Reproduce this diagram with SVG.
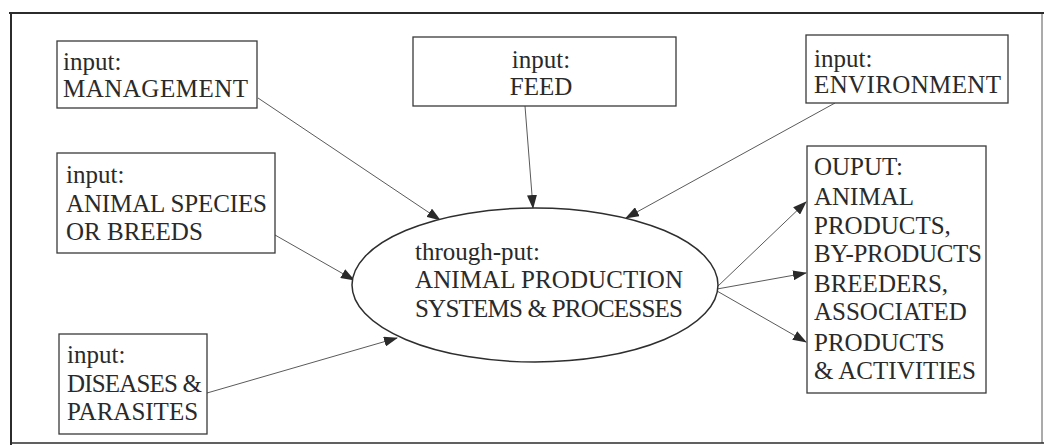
<svg xmlns="http://www.w3.org/2000/svg" width="1044" height="445" viewBox="0 0 1044 445">
  <defs>
    <marker id="arrow" markerWidth="14" markerHeight="10" refX="13" refY="5" orient="auto" markerUnits="userSpaceOnUse">
      <path d="M0,0 L14,5 L0,10 Z" fill="#2a2a2a"/>
    </marker>
    <style>
      .frame { stroke: #2b2b2b; fill: none; }
      .box { fill: #ffffff; stroke: #3a3a3a; stroke-width: 1.3; }
      .oval { fill: #ffffff; stroke: #2e2e2e; stroke-width: 1.5; }
      .label { font-family: "Liberation Serif", "Times New Roman", serif; font-size: 25px; fill: #2a2a2a; }
      .mid { text-anchor: middle; }
      .link { stroke: #5a5a5a; stroke-width: 1; fill: none; marker-end: url(#arrow); }
    </style>
  </defs>

  <rect width="1044" height="445" fill="#ffffff"/>

  <!-- page frame -->
  <g id="frame">
    <line class="frame" x1="9" y1="13" x2="1044" y2="13" stroke-width="2.2"/>
    <line class="frame" x1="11" y1="13" x2="11" y2="445" stroke-width="2"/>
    <line class="frame" x1="11" y1="443" x2="1044" y2="443" stroke-width="1.4" stroke="#666"/>
    <line class="frame" x1="1042" y1="13" x2="1042" y2="443" stroke-width="0.8" stroke="#ccc"/>
  </g>

  <!-- connectors -->
  <g id="connectors">
    <line class="link" x1="258" y1="98" x2="440" y2="220"/>
    <line class="link" x1="525" y1="106" x2="533" y2="208"/>
    <line class="link" x1="835" y1="103" x2="626" y2="218"/>
    <line class="link" x1="275" y1="235" x2="354" y2="280"/>
    <line class="link" x1="207" y1="393" x2="397" y2="338"/>
    <line class="link" x1="717" y1="287" x2="806" y2="202"/>
    <line class="link" x1="717" y1="289" x2="806" y2="273"/>
    <line class="link" x1="717" y1="291" x2="806" y2="342"/>
  </g>

  <g id="management">
    <rect class="box" x="57" y="41" width="200" height="67"/>
    <text class="label" x="63" y="70">input:</text>
    <text class="label" x="63" y="97" textLength="185">MANAGEMENT</text>
  </g>

  <g id="feed">
    <rect class="box" x="413" y="37" width="263" height="69"/>
    <text class="label mid" x="541" y="68">input:</text>
    <text class="label mid" x="541" y="95">FEED</text>
  </g>

  <g id="environment">
    <rect class="box" x="806" y="35" width="202" height="68"/>
    <text class="label" x="814" y="67">input:</text>
    <text class="label" x="814" y="93" textLength="187">ENVIRONMENT</text>
  </g>

  <g id="species">
    <rect class="box" x="57" y="153" width="218" height="100"/>
    <text class="label" x="66" y="183">input:</text>
    <text class="label" x="66" y="212" textLength="201">ANIMAL SPECIES</text>
    <text class="label" x="66" y="240">OR BREEDS</text>
  </g>

  <g id="diseases">
    <rect class="box" x="59" y="334" width="148" height="100"/>
    <text class="label" x="67" y="363">input:</text>
    <text class="label" x="67" y="392" textLength="135">DISEASES &amp;</text>
    <text class="label" x="67" y="420">PARASITES</text>
  </g>

  <g id="throughput">
    <ellipse class="oval" cx="535" cy="285" rx="183" ry="77"/>
    <text class="label" x="415" y="260">through-put:</text>
    <text class="label" x="415" y="288" textLength="268">ANIMAL PRODUCTION</text>
    <text class="label" x="415" y="317" textLength="268">SYSTEMS &amp; PROCESSES</text>
  </g>

  <g id="output">
    <rect class="box" x="807" y="146" width="179" height="247"/>
    <text class="label" x="814" y="175">OUPUT:</text>
    <text class="label" x="814" y="205">ANIMAL</text>
    <text class="label" x="814" y="234">PRODUCTS,</text>
    <text class="label" x="814" y="262" textLength="168">BY-PRODUCTS</text>
    <text class="label" x="814" y="292">BREEDERS,</text>
    <text class="label" x="814" y="320">ASSOCIATED</text>
    <text class="label" x="814" y="351">PRODUCTS</text>
    <text class="label" x="814" y="379">&amp; ACTIVITIES</text>
  </g>
</svg>
